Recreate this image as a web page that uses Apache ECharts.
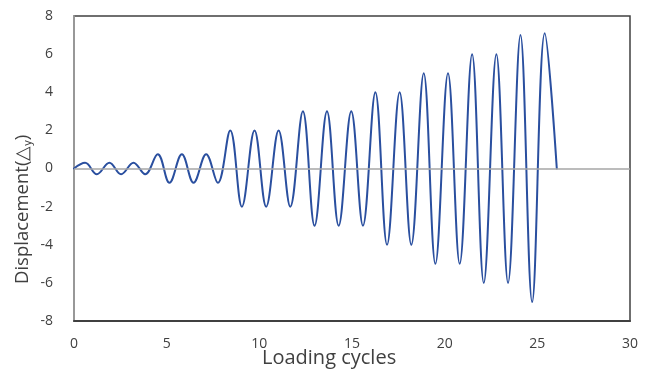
<!DOCTYPE html>
<html>
<head>
<meta charset="utf-8">
<script src="https://cdn.jsdelivr.net/npm/echarts@6/dist/echarts.min.js"></script>
<style>
  html, body { margin: 0; padding: 0; background: #fff; }
  #chart { width: 648px; height: 371px; }
</style>
</head>
<body>
<div id="chart"></div>
<script>
// Cyclic loading protocol: displacement (in yield displacements) vs loading cycles.
// Peaks (positive excursions)
const peakX = [0.60, 1.91, 3.21, 4.52, 5.82, 7.13, 8.43, 9.74, 11.04, 12.35,
               13.65, 14.96, 16.26, 17.57, 18.87, 20.18, 21.48, 22.79, 24.09, 25.40];
const peakY = [0.3, 0.3, 0.3, 0.75, 0.75, 0.75, 2, 2, 2, 3,
               3, 3, 4, 4, 5, 5, 6, 6, 7, 7.1];
// Troughs (negative excursions)
const troughX = [1.23, 2.54, 3.84, 5.15, 6.45, 7.76, 9.06, 10.37, 11.67, 12.98,
                 14.28, 15.59, 16.89, 18.20, 19.50, 20.81, 22.11, 23.42, 24.72];
const troughY = [-0.3, -0.3, -0.3, -0.75, -0.75, -0.75, -2, -2, -2, -3,
                 -3, -3, -4, -4, -5, -5, -6, -6, -7];
// Start and end of the history (at rest)
const startPoint = [0, 0];
const endPoint = [26.05, 0];

const xTicks = [0, 5, 10, 15, 20, 25, 30];
const yTicks = [-8, -6, -4, -2, 0, 2, 4, 6, 8];

// Merge into one ordered history: start, alternating peak / trough, end
const history = [startPoint];
peakX.forEach((x, i) => history.push([x, peakY[i]]));
troughX.forEach((x, i) => history.push([x, troughY[i]]));
history.push(endPoint);
history.sort((a, b) => a[0] - b[0]);

const textColor = '#404040';
const font = 'Open Sans, Liberation Sans, sans-serif';

const chart = echarts.init(document.getElementById('chart'), null, { renderer: 'canvas' });
chart.setOption({
  animation: false,
  backgroundColor: '#ffffff',
  grid: {
    left: 74, right: 18, top: 16, bottom: 50,
    show: true, borderColor: '#404040', borderWidth: 1.5, backgroundColor: 'transparent'
  },
  xAxis: {
    type: 'value', min: xTicks[0], max: xTicks[xTicks.length - 1], interval: 5,
    axisLine: { show: true, onZero: false, lineStyle: { color: '#404040', width: 2 } },
    axisTick: { show: false },
    splitLine: { show: false },
    axisLabel: { color: textColor, fontSize: 14, fontFamily: font, margin: 16 }
  },
  yAxis: {
    type: 'value', min: yTicks[0], max: yTicks[yTicks.length - 1], interval: 2,
    axisLine: { show: true, lineStyle: { color: '#a6a6a6', width: 1.5 } },
    axisTick: { show: false },
    splitLine: { show: false },
    axisLabel: { color: textColor, fontSize: 14, fontFamily: font, margin: 21 }
  },
  series: [{
    type: 'line',
    data: history,
    smooth: 0.38,
    showSymbol: false,
    lineStyle: { color: '#2a4f9f', width: 2, join: 'round', cap: 'round' },
    markLine: {
      silent: true,
      symbol: 'none',
      label: { show: false },
      lineStyle: { color: '#a6a6a6', width: 1.5, type: 'solid' },
      data: [{ yAxis: 0 }]
    },
    z: 3
  }],
  graphic: [
    {
      type: 'text', left: 262, top: 348,
      style: { text: 'Loading cycles', fill: textColor, font: '20px ' + font }
    },
    {
      type: 'text', x: 12, y: 284, rotation: Math.PI / 2,
      style: {
        text: 'Displacement(△{s|y})', fill: textColor, font: '18.5px ' + font,
        rich: { s: { fontSize: 11, fill: textColor, fontFamily: font, padding: [10, 0, 0, 0] } }
      }
    }
  ]
});
</script>
</body>
</html>
